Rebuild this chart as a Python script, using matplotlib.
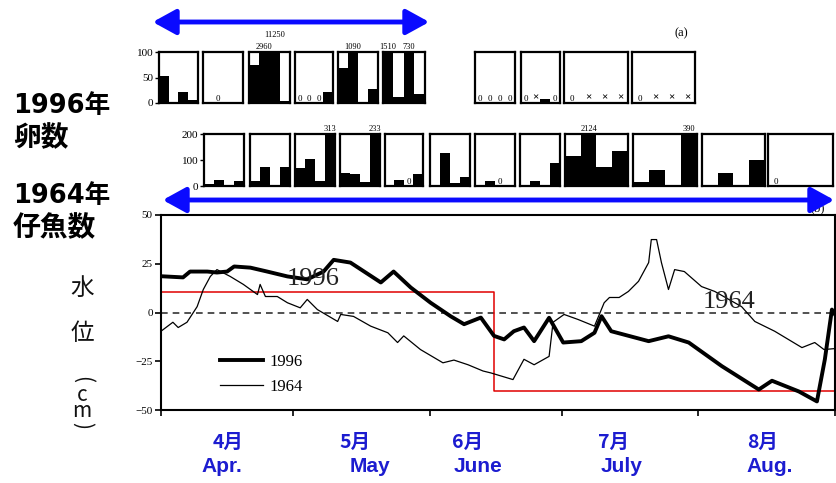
import matplotlib
matplotlib.use("Agg")
import matplotlib.pyplot as plt
from matplotlib.patches import FancyArrowPatch

plt.rcParams['font.family'] = ['Liberation Serif', 'DejaVu Serif']
JP = ['Noto Sans CJK JP', 'DejaVu Sans']
JP_WIDE = ['DejaVu Sans', 'Noto Sans CJK JP']

# --- data ---
# (a) 1996 egg counts, 4 bars per box; None = not surveyed (x)
egg_counts = [
    [52, 1, 22, 5], [2, 0, 2, 2], [75, 2960, 11250, 3], [0, 0, 0, 22],
    [68, 1090, 2, 28], [1510, 12, 730, 18], [0, 0, 0, 0], [0, None, 8, 0],
    [0, None, None, None], [0, None, None, None],
]
# (b) 1964 fry counts
fry_counts = [
    [8, 25, 5, 18], [20, 75, 2, 75], [70, 102, 20, 313], [50, 45, 15, 233],
    [3, 25, 0, 45], [2, 128, 10, 35], [2, 18, 0, 2], [2, 18, 2, 88],
    [115, 2124, 73, 135], [15, 60, 5, 390], [2, 50, 5, 100], [0, 3, 0.5, 0.5],
]

# water level (cm), x = days from 1 April
days_1996 = [0, 5, 6.6, 10.5, 12.7, 15, 16.6, 20.3, 24.1, 28.7, 33.2, 36.9, 39.2, 43,
             49.9, 52.8, 56.7, 61.2, 65.8, 68.8, 72.6, 75.6, 77.9, 80.1, 82.4, 84.7,
             88.1, 91.3, 95.4, 98.4, 100, 102.2, 110.7, 115.2, 119.8, 127.3, 135.7,
             138.7, 144.8, 148.9, 150.7, 152.3, 153]
level_1996 = [18.6, 18, 21, 21, 20.5, 21, 23.6, 23, 21, 18.5, 17, 21, 27, 25.6,
              15.4, 21, 12.8, 5, -2, -6, -2.6, -12, -13.8, -9.6, -7.7, -14.7,
              -2.7, -15.4, -14.7, -10.4, -1.9, -9.6, -14.7, -12.2, -15.4, -27.5, -39.5,
              -35, -40.5, -45.6, -24, 1.5, -1]

days_1964 = [0, 2.7, 3.9, 5.9, 8.2, 9.6, 11.2, 12.7, 15.7, 18.7, 21.9, 22.5, 23.7, 26.4,
             28.7, 31.6, 33.2, 35.5, 40.1, 40.8, 43.7, 47.6, 51.5, 53.7, 55.1, 58.9,
             64, 66.5, 69.7, 73.1, 74.9, 79.9, 82.4, 84.7, 88.1, 89, 91.5, 94.7, 98.4,
             100.6, 101.8, 104, 106.1, 108.4, 110.7, 111.3, 112.5, 113.6, 115.2, 116.6,
             118.8, 122.7, 125.7, 128.9, 131.8, 134.8, 139.3, 145.5, 148.4, 150.5, 153]
level_1964 = [-9.6, -5, -7.7, -5, 3, 11.8, 18.5, 22, 18.5, 14.4, 9.2, 14.4, 8.2, 8.2,
              5, 2.4, 6.7, 1.5, -4.6, -1, -2, -7, -10.4, -15.4, -12, -19,
              -25.8, -24.4, -26.8, -30, -31, -34.4, -24, -26.8, -22.5, -5, -1, -3.6, -7,
              5, 7.7, 7.7, 10.8, 16, 25.6, 37.4, 37.4, 25.6, 11.8, 22,
              21, 13.3, 10.8, 6.7, 3, -4.6, -9.6, -18, -15.4, -19, -18.5]

red_days = [0, 75.6, 153]
red_level = [10.3, -40.5, -40.5]

month_starts = [0, 30, 61, 91, 122, 153]
months_jp = ['4月', '5月', '6月', '7月', '8月']
months_en = ['Apr.', 'May', 'June', 'July', 'Aug.']

# --- layout (pixels of the 837x483 picture) ---
W, H = 837, 483
def rect(x0, y0, x1, y1):
    return [x0 / W, 1 - y1 / H, (x1 - x0) / W, (y1 - y0) / H]
def fx(x):
    return x / W
def fy(y):
    return 1 - y / H

a_boxes = [(159, 198), (203, 243), (249, 290), (295, 333), (338, 378), (383, 425),
           (475, 515), (521, 560), (564, 628), (632, 695)]
b_boxes = [(204, 244), (250, 290), (295, 335), (340, 380), (385, 423), (430, 470),
           (475, 515), (520, 560), (565, 628), (633, 697), (702, 765), (768, 833)]

fig = plt.figure(figsize=(W / 100, H / 100), dpi=100)


def small_row(counts, boxes, y0, y1, ymax, yticks):
    for k, (vals, (x0, x1)) in enumerate(zip(counts, boxes)):
        ax = fig.add_axes(rect(x0, y0, x1, y1))
        ax.set_xlim(0, len(vals))
        ax.set_ylim(0, ymax)
        for s in ax.spines.values():
            s.set_linewidth(1.6)
        ax.set_xticks([])
        if k == 0:
            ax.set_yticks(yticks)
            ax.tick_params(axis='y', length=3, width=1, labelsize=8, pad=1)
        else:
            ax.set_yticks([])
        prev_over = False
        for i, v in enumerate(vals):
            if v is None:
                ax.text(i + 0.5, 0.02 * ymax, '×', ha='center', va='bottom',
                        fontsize=8, fontweight='bold')
                prev_over = False
                continue
            ax.bar(i, v, width=1.0, align='edge', color='black', linewidth=0)
            if v == 0:
                ax.text(i + 0.5, 0.0, '0', ha='center', va='bottom', fontsize=6.5)
            if v > ymax:
                lift = 1.25 if prev_over else 1.02
                ax.text(i + 0.5, ymax * lift, str(v), ha='center', va='bottom',
                        fontsize=6, clip_on=False)
                prev_over = True
            else:
                prev_over = False


small_row(egg_counts, a_boxes, 52, 103, 100, [0, 50, 100])
small_row(fry_counts, b_boxes, 134, 186, 200, [0, 100, 200])

# --- water level panel ---
ax = fig.add_axes(rect(161, 215, 835, 410))
ax.axhline(0, color='#333333', lw=1.2, ls=(0, (4, 3)))
ax.step(red_days, red_level, where='post', color='#e00000', lw=1.1)
ax.plot(days_1996, level_1996, color='black', lw=2.8, label='1996',
        solid_joinstyle='round')
ax.plot(days_1964, level_1964, color='black', lw=0.9, label='1964')
ax.set_xlim(0, 153)
ax.set_ylim(-50, 50)
ax.set_yticks([-50, -25, 0, 25, 50])
ax.set_yticklabels(['−50', '−25', '0', '25', '50'])
ax.set_xticks(month_starts)
ax.set_xticklabels([])
ax.tick_params(axis='both', length=4, width=1.2, labelsize=8, pad=2)
for s in ax.spines.values():
    s.set_linewidth(1.5)
ax.text(34.6, 17, '1996', fontsize=19, ha='center', va='center', color='#222222')
ax.text(128.9, 5.6, '1964', fontsize=19, ha='center', va='center', color='#222222')
ax.legend(loc='lower left', bbox_to_anchor=(0.065, 0.0), frameon=False,
          fontsize=12, handlelength=2.6, labelspacing=0.55, handletextpad=0.4)

# --- panel tags and blue arrows ---
fig.text(fx(681), fy(33), '(a)', fontsize=9, ha='center', va='center')
fig.text(fx(818), fy(208), '(b)', fontsize=9, ha='center', va='center', zorder=1)
for (xa, xb, y) in [(150, 432, 22), (160, 837, 200)]:
    fig.patches.append(FancyArrowPatch((fx(xa), fy(y)), (fx(xb), fy(y)),
                                       transform=fig.transFigure,
                                       arrowstyle='<|-|>,head_length=1.0,head_width=0.55',
                                       mutation_scale=14, lw=3.5, color='#0a0aff',
                                       zorder=5))

# --- Japanese labels on the left ---
for txt, y in [('1996年', 106), ('1964年', 196)]:
    fig.text(fx(13), fy(y), txt, family=JP_WIDE, fontsize=18.5, fontweight='bold',
             ha='left', va='center')
for txt, y in [('卵数', 138), ('仔魚数', 228)]:
    fig.text(fx(13), fy(y), txt, family=JP, fontsize=20, fontweight='bold',
             ha='left', va='center')
fig.text(fx(82), fy(288), '水', family=JP, fontsize=17, ha='center', va='center',
         color='#111111')
fig.text(fx(82), fy(333), '位', family=JP, fontsize=17, ha='center', va='center',
         color='#111111')
fig.text(fx(82), fy(380), '(', family=JP, fontsize=15, rotation=-90,
         rotation_mode='anchor', ha='center', va='center', color='#111111')
fig.text(fx(82), fy(403), 'c\nm', family=JP, fontsize=15, linespacing=0.7,
         ha='center', va='center', color='#111111')
fig.text(fx(82), fy(426), ')', family=JP, fontsize=15, rotation=-90,
         rotation_mode='anchor', ha='center', va='center', color='#111111')

# --- month labels ---
jp_x = [228, 355, 468, 614, 763]
en_x = [222, 370, 478, 622, 770]
for m_jp, m_en, xj, xe in zip(months_jp, months_en, jp_x, en_x):
    fig.text(fx(xj), fy(442), m_jp, family=JP, fontsize=14, fontweight='bold',
             color='#1c1cd0', ha='center', va='center')
    fig.text(fx(xe), fy(466), m_en, family=['Liberation Sans', 'DejaVu Sans'],
             fontsize=15, fontweight='bold', color='#1c1cd0', ha='center', va='center')

fig.savefig('out.png', dpi=100)
